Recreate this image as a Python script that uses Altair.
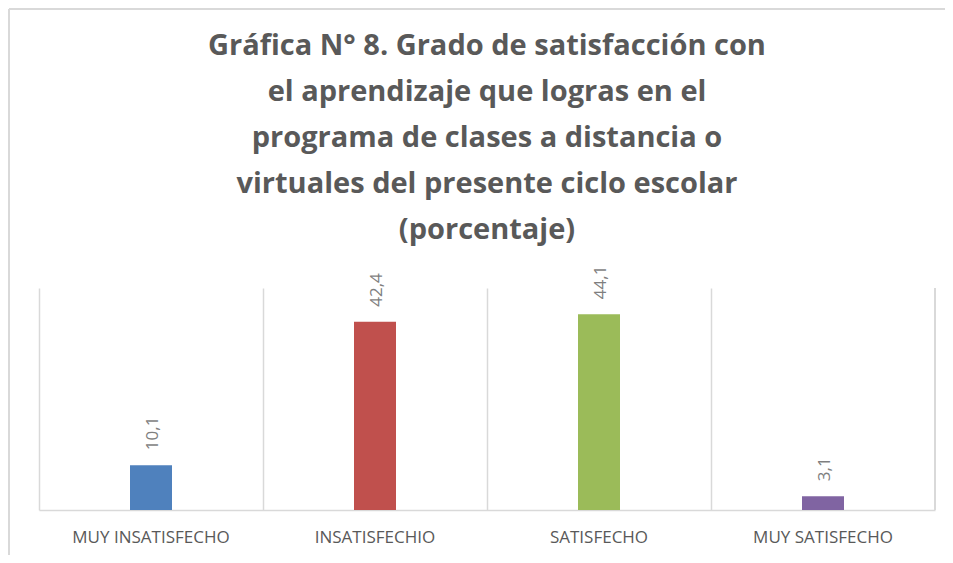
import altair as alt
import pandas as pd

categories = ["MUY INSATISFECHO", "INSATISFECHIO", "SATISFECHO", "MUY SATISFECHO"]
values = [10.1, 42.4, 44.1, 3.1]
colors = ["#4f81bd", "#c0504d", "#9bbb59", "#8064a2"]
title_lines = [
    "Gráfica N° 8. Grado de satisfacción con",
    "el aprendizaje que logras en el",
    "programa de clases a distancia o",
    "virtuales del presente ciclo escolar",
    "(porcentaje)",
]

df = pd.DataFrame({
    "cat": categories,
    "val": values,
    "label": [f"{v:.1f}".replace(".", ",") for v in values],
})

W, H = 896, 222
FONT = "Open Sans"
GRID = "#d9d9d9"

x_enc = alt.X(
    "cat:N", sort=categories,
    scale=alt.Scale(paddingInner=0, paddingOuter=0),
    axis=alt.Axis(
        title=None, labelAngle=0, grid=True, bandPosition=0,
        gridColor=GRID, gridWidth=1.5, ticks=False,
        domainColor=GRID, domainWidth=1.5,
        labelFont=FONT, labelFontSize=17, labelColor="#595959",
        labelPadding=19,
    ),
)
y_enc = alt.Y("val:Q", scale=alt.Scale(domain=[0, 50]), axis=None)

base = alt.Chart(df)

bars = base.mark_bar(size=42).encode(
    x=x_enc, y=y_enc,
    color=alt.Color("cat:N", sort=categories,
                    scale=alt.Scale(domain=categories, range=colors), legend=None),
)

labels = base.mark_text(
    angle=270, align="left", baseline="middle", dx=15, dy=2,
    font=FONT, fontSize=17, color="#7f7f7f",
).encode(x=alt.X("cat:N", sort=categories), y=y_enc, text="label:N")

right_edge = base.mark_rule(color=GRID, strokeWidth=1.5).encode(
    x=alt.value(W), y=alt.value(0), y2=alt.value(H)
)
frame_left = base.mark_rule(color=GRID, strokeWidth=1.5).encode(
    x=alt.value(-30), y=alt.value(-279), y2=alt.value(H + 60)
)
frame_top = base.mark_rule(color=GRID, strokeWidth=1.5).encode(
    x=alt.value(-30), x2=alt.value(W + 20), y=alt.value(-279)
)

chart = alt.layer(frame_left, frame_top, right_edge, bars, labels).properties(
    width=W, height=H,
    autosize=alt.AutoSizeParams(type="none"),
    padding={"left": 31, "top": 280, "right": 10, "bottom": 45},
    title=alt.TitleParams(
        text=title_lines, font=FONT, fontSize=29, fontWeight="bold",
        color="#595959", lineHeight=46, anchor="middle", offset=-237,
    ),
).configure_view(stroke=None)

chart.save("out.html", embed_options={"renderer": "svg", "actions": False})
